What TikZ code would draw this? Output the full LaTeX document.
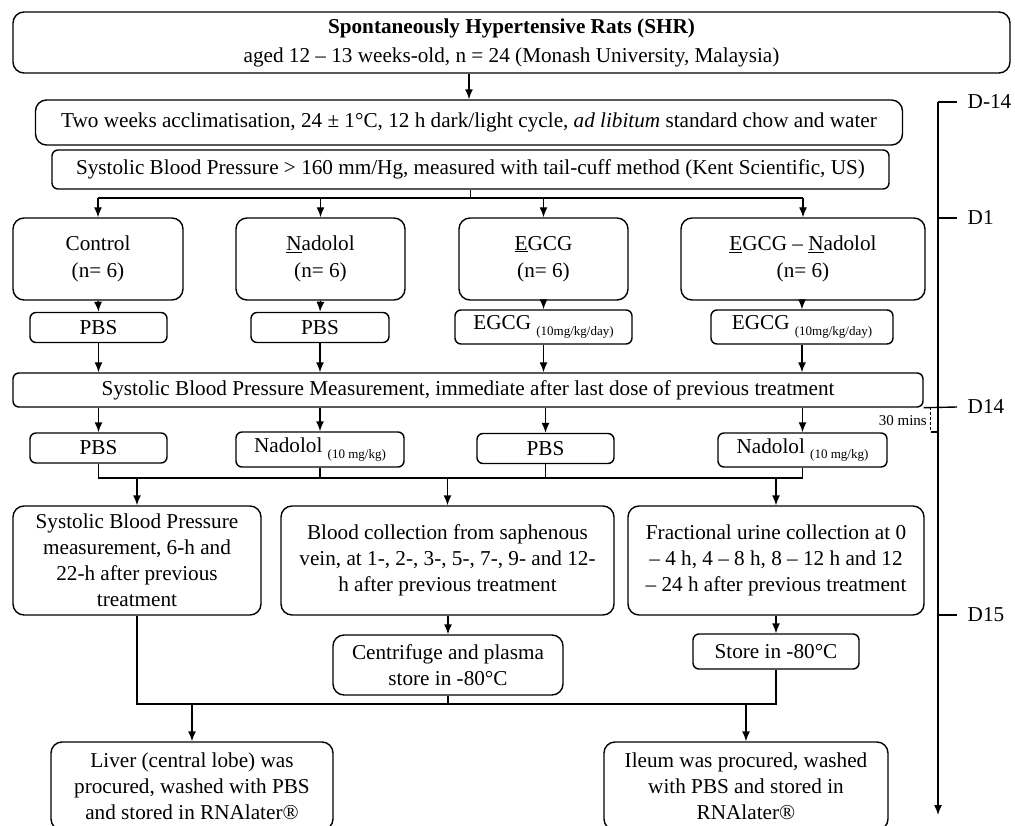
\documentclass[tikz,border=0pt]{standalone}
\usepackage{fontspec}
\setmainfont{Liberation Serif}
\usetikzlibrary{arrows.meta}
\newcommand{\radiusbig}{11pt}
\newcommand{\radiussmall}{6pt}
\newcommand{\doselabel}[1]{\raisebox{-0.55ex}{\fontsize{13}{14}\selectfont #1}}
\tikzset{
    common/.style={draw, rectangle, line width=1.4pt, align=center, inner sep=2pt,
        font=\fontsize{21.2}{26}\selectfont},
    bigbox/.style={common, rounded corners=\radiusbig},
    smallbox/.style={common, rounded corners=\radiussmall},
    flow/.style={-{Latex[length=10pt, width=8pt]}, line width=1.4pt},
    link/.style={line width=1.4pt},
    day/.style={anchor=west, inner sep=0pt, xshift=10pt, font=\fontsize{21.2}{26}\selectfont}
}

\begin{document}
\begin{tikzpicture}[x=1pt, y=-1pt]
    \useasboundingbox (0,0) rectangle (1015,826);

    % housing and baseline
    \node[bigbox, minimum width=997, minimum height=61] (rats) at (511.5,42.5)
        {\textbf{Spontaneously Hypertensive Rats (SHR)}\\[3pt]
         aged 12 – 13 weeks-old, n = 24 (Monash University, Malaysia)};
    \node[bigbox, minimum width=867, minimum height=45] (accl) at (469,122.5)
        {Two weeks acclimatisation, 24 ± 1°C, 12 h dark/light cycle, \emph{ad libitum} standard chow and water};
    \node[smallbox, minimum width=837, minimum height=39] (sbp) at (470.5,169.5)
        {Systolic Blood Pressure > 160 mm/Hg, measured with tail-cuff method (Kent Scientific, US)};

    \draw[flow] (rats.south -| accl.north) -- (accl.north);

    % groups
    \node[bigbox, minimum width=170, minimum height=82] (control) at (98,259) {Control\\[1pt](n= 6)};
    \node[bigbox, minimum width=169, minimum height=82] (nadolol) at (320.5,259) {\underline{N}adolol\\[1pt](n= 6)};
    \node[bigbox, minimum width=169, minimum height=82] (egcg) at (543.5,259) {\underline{E}GCG\\[1pt](n= 6)};
    \node[bigbox, minimum width=244, minimum height=82] (combo) at (803,259) {\underline{E}GCG – \underline{N}adolol\\[1pt](n= 6)};

    \coordinate (split) at (0,198);
    \draw[link] (sbp.south) -- (sbp.south |- split);
    \draw[link] (split -| control.north) -- (split -| combo.north);
    \draw[flow] (split -| control.north) -- (control.north);
    \draw[flow] (split -| nadolol.north) -- (nadolol.north);
    \draw[flow] (split -| egcg.north) -- (egcg.north);
    \draw[flow] (split -| combo.north) -- (combo.north);

    % first treatment
    \node[smallbox, minimum width=137, minimum height=30] (pbsA) at (98.5,327.5) {PBS};
    \node[smallbox, minimum width=138, minimum height=30] (pbsB) at (320,327.5) {PBS};
    \node[smallbox, minimum width=177, minimum height=34] (egcgA) at (543.5,327) {EGCG \doselabel{(10mg/kg/day)}};
    \node[smallbox, minimum width=182, minimum height=34] (egcgB) at (802,327) {EGCG \doselabel{(10mg/kg/day)}};

    \draw[flow] (control.south) -- (pbsA.north);
    \draw[flow] (nadolol.south) -- (pbsB.north);
    \draw[flow] (egcg.south) -- (egcgA.north);
    \draw[flow] (combo.south -| egcgB.north) -- (egcgB.north);

    \node[smallbox, minimum width=910, minimum height=34] (measure) at (468,390)
        {Systolic Blood Pressure Measurement, immediate after last dose of previous treatment};

    \draw[flow] (pbsA.south) -- (pbsA.south |- measure.north);
    \draw[flow] (pbsB.south) -- (pbsB.south |- measure.north);
    \draw[flow] (egcgA.south) -- (egcgA.south |- measure.north);
    \draw[flow] (egcgB.south) -- (egcgB.south |- measure.north);

    % second treatment
    \node[smallbox, minimum width=137, minimum height=30] (pbsC) at (98.5,448) {PBS};
    \node[smallbox, minimum width=168, minimum height=35] (nadA) at (320,449.5) {Nadolol \doselabel{(10 mg/kg)}};
    \node[smallbox, minimum width=137, minimum height=30] (pbsD) at (545.5,448.5) {PBS};
    \node[smallbox, minimum width=169, minimum height=34] (nadB) at (802.5,450) {Nadolol \doselabel{(10 mg/kg)}};

    \draw[flow] (measure.south -| pbsC.north) -- (pbsC.north);
    \draw[flow] (measure.south -| nadA.north) -- (nadA.north);
    \draw[flow] (measure.south -| pbsD.north) -- (pbsD.north);
    \draw[flow] (measure.south -| nadB.north) -- (nadB.north);

    % sampling
    \node[bigbox, minimum width=248, minimum height=109] (sbpPost) at (137,560.5)
        {Systolic Blood Pressure\\measurement, 6-h and\\22-h after previous\\treatment};
    \node[bigbox, minimum width=333, minimum height=109] (blood) at (447.5,560.5)
        {Blood collection from saphenous\\vein, at 1-, 2-, 3-, 5-, 7-, 9- and 12-\\h after previous treatment};
    \node[bigbox, minimum width=296, minimum height=109] (urine) at (776,560.5)
        {Fractional urine collection at 0\\– 4 h, 4 – 8 h, 8 – 12 h and 12\\– 24 h after previous treatment};

    \coordinate (join) at (0,478);
    \draw[link] (pbsC.south) |- (nadB.south |- join) -- (nadB.south);
    \draw[link] (nadA.south) -- (nadA.south |- join);
    \draw[link] (pbsD.south) -- (pbsD.south |- join);
    \draw[flow] (join -| sbpPost.north) -- (sbpPost.north);
    \draw[flow] (join -| blood.north) -- (blood.north);
    \draw[flow] (join -| urine.north) -- (urine.north);

    \node[bigbox, minimum width=230, minimum height=60] (centri) at (448,665) {Centrifuge and plasma\\store in -80°C};
    \node[smallbox, minimum width=166, minimum height=35] (store) at (776,651.5) {Store in -80°C};

    \draw[flow] (blood.south -| centri.north) -- (centri.north);
    \draw[flow] (urine.south) -- (store.north);

    % tissues
    \node[bigbox, minimum width=282, minimum height=88] (liver) at (192,786)
        {Liver (central lobe) was\\procured, washed with PBS\\and stored in RNAlater®};
    \node[bigbox, minimum width=284, minimum height=88] (ileum) at (746,786)
        {Ileum was procured, washed\\with PBS and stored in\\RNAlater®};

    \coordinate (collect) at (0,704);
    \draw[link] (sbpPost.south) |- (store.south |- collect) -- (store.south);
    \draw[link] (centri.south) -- (centri.south |- collect);
    \draw[flow] (collect -| liver.north) -- (liver.north);
    \draw[flow] (collect -| ileum.north) -- (ileum.north);

    % timeline
    \coordinate (tl-start) at (938,102);
    \coordinate (tl-end) at (938,815);
    \draw[flow] (tl-start) -- (tl-end);
    \draw[link] (tl-start) -- ++(19,0) node[day] (d-14) {D-14};
    \draw[link] (938,218) -- ++(19,0) node[day] (d1) {D1};
    \draw[link] (measure.south east) -- (957,407) node[day] (d14) {D14};
    \draw[link] (938,615) -- ++(19,0) node[day] (d15) {D15};

    \coordinate (gap-top) at (930.5,407);
    \coordinate (gap-end) at (930.5,432);
    \draw[line width=0.9pt, dash pattern=on 3pt off 2pt] (gap-top) -- (gap-end);
    \draw[line width=1.1pt] (gap-end) -- (gap-end -| tl-start);
    \node[anchor=east, inner sep=1pt, font=\fontsize{15}{17}\selectfont] (gap) at (928,421) {30 mins};
\end{tikzpicture}
\end{document}
